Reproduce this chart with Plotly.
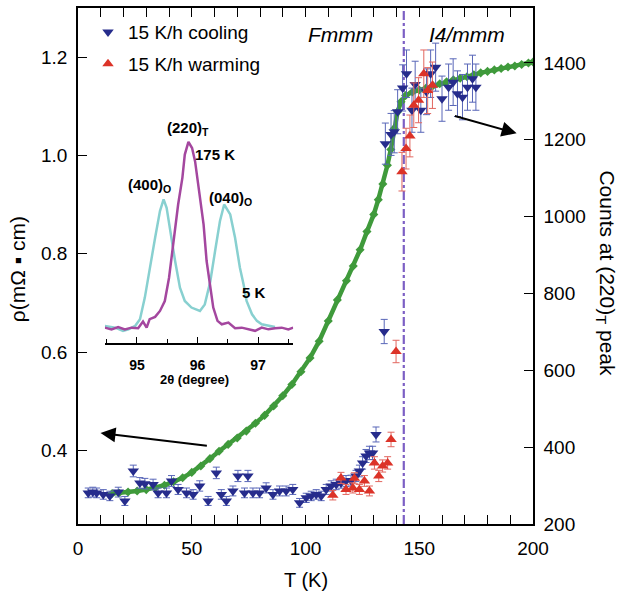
import plotly.graph_objects as go

# ---------------- data ----------------
# Counts at (220)_T peak, 15 K/h cooling (right axis)
T_cool = [4.5, 6.5, 8.2, 11.1, 14.0, 17.7, 20.6, 24.3, 27.2, 29.4, 33.0, 35.2, 38.9, 41.1,
          44.0, 47.7, 50.6, 53.5, 57.2, 60.8, 63.0, 65.2, 68.1, 70.3, 73.2, 74.7, 76.9, 79.8,
          82.7, 85.7, 88.6, 91.5, 94.4, 97.4, 100.3, 102.5, 104.7, 106.9, 109.1, 111.3, 113.5,
          115.6, 117.8, 120.0, 122.2, 123.7, 125.1, 126.6, 128.1, 129.5, 131.0, 134.6, 135.1,
          137.6, 139.0, 140.5, 142.7, 144.4, 146.8, 148.2, 150.7, 153.2, 155.0, 157.2, 160.0,
          162.9, 164.9, 166.8, 169.0, 171.2, 173.4, 174.9]
counts_cool = [281, 283, 281, 277, 273, 283, 260, 338, 307, 305, 303, 281, 281, 312,
               290, 281, 277, 299, 260, 333, 277, 260, 286, 325, 281, 325, 281, 281,
               294, 277, 286, 286, 290, 255, 268, 273, 277, 273, 290, 299, 303,
               307, 312, 313, 325, 338, 359, 377, 385, 385, 433, 701, 1190,
               1214, 1221, 1273, 1335, 1372, 1277, 1344, 1277, 1325, 1372, 1389, 1307,
               1337, 1350, 1320, 1311, 1337, 1359, 1337]

# Counts at (220)_T peak, 15 K/h warming (right axis)
T_warm = [112.0, 115.6, 117.8, 120.8, 121.5, 123.7, 125.9, 128.1, 130.3, 132.2, 133.9,
          136.1, 137.6, 139.8, 142.4, 144.2, 145.9, 147.6, 149.7, 152.0, 153.7, 155.8]
counts_warm = [275, 320, 290, 294, 319, 290, 312, 286, 359, 325, 351,
               359, 420, 649, 1117, 1177, 1210, 1290, 1303, 1372, 1328, 1342]

# Resistivity rho (mOhm cm) (left axis)
T_rho = [15, 18, 22, 26, 30, 34, 38, 42, 46, 50, 54, 58, 62, 66, 70, 74, 78, 82, 86, 90,
         94, 98, 102, 106, 110, 114, 118, 121, 124, 127, 130, 132, 134, 136, 137.5, 139,
         140.5, 142, 144, 147, 150, 153, 156, 159, 162, 165, 168, 171, 174, 177, 180, 183,
         186, 189, 192, 195, 198, 200]
rho = [0.312, 0.313, 0.315, 0.317, 0.320, 0.324, 0.329, 0.336, 0.344, 0.355, 0.368, 0.383,
       0.398, 0.412, 0.425, 0.439, 0.455, 0.471, 0.490, 0.511, 0.534, 0.560, 0.588, 0.622,
       0.663, 0.706, 0.745, 0.775, 0.808, 0.845, 0.880, 0.910, 0.942, 0.980, 1.012, 1.055,
       1.089, 1.109, 1.122, 1.129, 1.133, 1.137, 1.142, 1.146, 1.150, 1.154, 1.157, 1.160,
       1.164, 1.168, 1.171, 1.174, 1.177, 1.180, 1.182, 1.185, 1.188, 1.190]

# Inset: scans vs 2theta (normalized intensity)
tt_5K = [94.47, 94.64, 94.77, 94.86, 94.97, 95.05, 95.13, 95.21, 95.30, 95.38, 95.44, 95.49,
         95.55, 95.63, 95.71, 95.79, 95.90, 96.04, 96.12, 96.21, 96.29, 96.37, 96.44, 96.54,
         96.62, 96.70, 96.76, 96.81, 96.90, 96.98, 97.06, 97.17, 97.28]
I_5K = [0.080, 0.072, 0.057, 0.064, 0.080, 0.112, 0.214, 0.355, 0.497, 0.623, 0.678, 0.638,
        0.528, 0.387, 0.261, 0.198, 0.167, 0.151, 0.182, 0.289, 0.434, 0.575, 0.654, 0.607,
        0.497, 0.355, 0.277, 0.198, 0.135, 0.104, 0.088, 0.080, 0.075]
tt_175K = [94.47, 94.58, 94.69, 94.80, 94.91, 95.02, 95.10, 95.16, 95.21, 95.30, 95.38,
           95.46, 95.53, 95.60, 95.68, 95.75, 95.79, 95.85, 95.91, 95.96, 96.02, 96.10,
           96.15, 96.21, 96.26, 96.33, 96.40, 96.51, 96.62, 96.73, 96.84, 96.95, 97.06,
           97.17, 97.28, 97.39, 97.50, 97.58]
I_175K = [0.072, 0.064, 0.075, 0.064, 0.072, 0.069, 0.101, 0.072, 0.112, 0.123, 0.151,
          0.198, 0.308, 0.465, 0.654, 0.780, 0.890, 0.950, 0.921, 0.858, 0.733, 0.560,
          0.387, 0.261, 0.167, 0.104, 0.088, 0.096, 0.069, 0.072, 0.064, 0.057, 0.072,
          0.064, 0.069, 0.072, 0.064, 0.072]

T_transition = 143.2

x_ticks = [0, 50, 100, 150, 200]
rho_ticks = [0.4, 0.6, 0.8, 1.0, 1.2]
rho_ticktext = ["0.4", "0.6", "0.8", "1.0", "1.2"]
count_ticks = [200, 400, 600, 800, 1000, 1200, 1400]
inset_ticks = [95, 96, 97]

# ---------------- style ----------------
FONT = "Liberation Sans, Arial, Helvetica, sans-serif"
BLUE = "#262c8c"
RED = "#dc3328"
GREEN = "#3f9a3b"
CYAN = "#88d0d0"
MAGENTA = "#a4479f"
VLINE = "#7c5fc4"

fig = go.Figure()

fig.add_trace(go.Scatter(
    x=T_rho, y=rho, mode="lines+markers",
    line=dict(color=GREEN, width=4.5),
    marker=dict(symbol="diamond", size=7, color=GREEN),
    showlegend=False, xaxis="x", yaxis="y", hoverinfo="skip"))

fig.add_trace(go.Scatter(
    x=T_cool, y=counts_cool, mode="markers", name="15 K/h cooling",
    marker=dict(symbol="triangle-down", size=10, color=BLUE),
    error_y=dict(type="percent", value=4.5, color="#5866b8", thickness=1, width=3.5),
    xaxis="x", yaxis="y2", legendgroup="c"))

fig.add_trace(go.Scatter(
    x=T_warm, y=counts_warm, mode="markers", name="15 K/h warming",
    marker=dict(symbol="triangle-up", size=10, color=RED),
    error_y=dict(type="percent", value=4.5, color="#e2665f", thickness=1, width=3.5),
    xaxis="x", yaxis="y2", legendgroup="w"))

fig.add_trace(go.Scatter(
    x=tt_5K, y=I_5K, mode="lines", line=dict(color=CYAN, width=2.5),
    xaxis="x3", yaxis="y3", showlegend=False, hoverinfo="skip"))
fig.add_trace(go.Scatter(
    x=tt_175K, y=I_175K, mode="lines", line=dict(color=MAGENTA, width=2.5),
    xaxis="x3", yaxis="y3", showlegend=False, hoverinfo="skip"))

fig.add_shape(type="line", xref="x", yref="paper", x0=T_transition, x1=T_transition,
              y0=0, y1=1, line=dict(color=VLINE, width=2.2, dash="dashdot"), layer="below")


def label(text, x, y, size, angle=0):
    return dict(text=text, x=x, y=y, xref="paper", yref="paper", showarrow=False,
                xanchor="center", yanchor="middle", textangle=angle,
                font=dict(size=size))


annotations = [
    label("T (K)", 0.501, -0.108, 20),
    label("ρ(mΩ ▪ cm)", -0.134, 0.494, 21, -90),
    label("Counts at (220)<sub>T</sub> peak", 1.160, 0.486, 21, 90),
    label("<i>Fmmm</i>", 0.578, 0.948, 21),
    label("<i>I4/mmm</i>", 0.855, 0.948, 21),
    # inset labels
    label("<b>(220)<sub>T</sub></b>", 0.242, 0.766, 15),
    label("<b>175 K</b>", 0.301, 0.716, 15),
    label("<b>(400)<sub>O</sub></b>", 0.158, 0.656, 15),
    label("<b>(040)<sub>O</sub></b>", 0.336, 0.631, 15),
    label("<b>5 K</b>", 0.387, 0.448, 15),
    label("<b>2θ (degree)</b>", 0.257, 0.280, 13),
    # arrows
    dict(text="", x=9.9, y=0.435, xref="x", yref="y", ax=57.3, ay=0.409,
         axref="x", ayref="y", showarrow=True, arrowhead=2, arrowsize=1.5,
         arrowwidth=2, arrowcolor="black"),
    dict(text="", x=192.8, y=1.045, xref="x", yref="y", ax=165.0, ay=1.081,
         axref="x", ayref="y", showarrow=True, arrowhead=2, arrowsize=1.5,
         arrowwidth=2, arrowcolor="black"),
]

axis_common = dict(showline=True, linecolor="black", linewidth=1.5, showgrid=False,
                   zeroline=False, ticks="inside", tickcolor="black", tickwidth=1.3)

fig.update_layout(
    width=622, height=595,
    margin=dict(l=78, r=89, t=6, b=71),
    paper_bgcolor="white", plot_bgcolor="white",
    font=dict(family=FONT, size=19, color="black"),
    xaxis=dict(range=[0, 200], tickvals=x_ticks, ticklen=9, mirror="allticks",
               minor=dict(dtick=10, ticks="inside", ticklen=5, tickcolor="black",
                          showgrid=False),
               ticklabelstandoff=6, tickfont=dict(size=19), **axis_common),
    yaxis=dict(range=[0.25, 1.30], tickvals=rho_ticks, ticktext=rho_ticktext, ticklen=9,
               ticklabelstandoff=5, tickfont=dict(size=19), **axis_common),
    yaxis2=dict(range=[200, 1543], tickvals=count_ticks, overlaying="y", side="right",
                anchor="x", ticklen=9, ticklabelstandoff=5, tickfont=dict(size=19),
                **axis_common),
    xaxis3=dict(domain=[0.059, 0.473], anchor="y3", range=[94.47, 97.58],
                tickvals=inset_ticks, ticklen=6,
                minor=dict(dtick=0.5, ticks="inside", ticklen=4, tickcolor="black",
                           showgrid=False),
                tickfont=dict(size=14, weight="bold"), ticklabelstandoff=9,
                **axis_common),
    yaxis3=dict(domain=[0.351, 0.761], anchor="x3", range=[0, 1], visible=False),
    legend=dict(x=0.022, y=0.99, xanchor="left", yanchor="top",
                bgcolor="rgba(0,0,0,0)", font=dict(size=19), tracegroupgap=4),
    annotations=annotations,
    showlegend=True,
)

# remove the browser's default 8px page margin so the figure sits at the page origin
fig.write_html("out.html", config={"displayModeBar": False},
               post_script="document.body.style.margin='0';")
